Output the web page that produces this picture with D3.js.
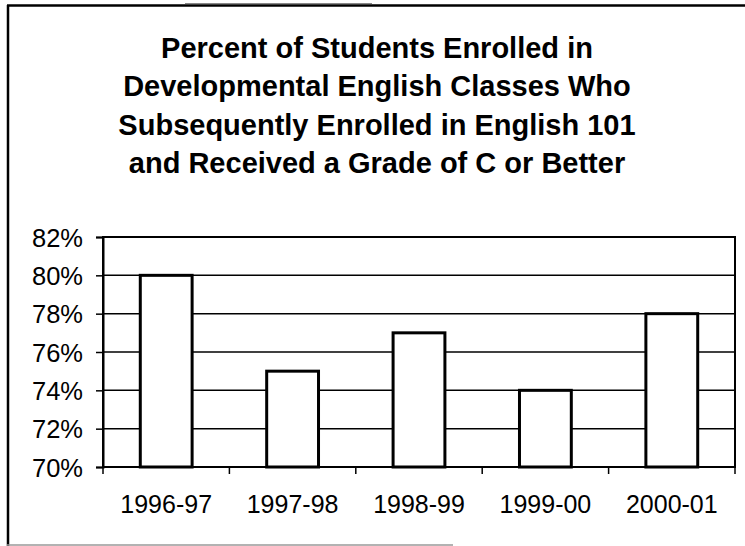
<!DOCTYPE html>
<html><head><meta charset="utf-8">
<script src="https://cdn.jsdelivr.net/npm/d3@7"></script>
<style>body{margin:0;background:#fff}svg{display:block}</style>
</head><body>
<script>
const categories = ["1996-97","1997-98","1998-99","1999-00","2000-01"];
const values = [80, 75, 77, 74, 78];
const yTicks = [70, 72, 74, 76, 78, 80, 82];
const titleLines = ["Percent of Students Enrolled in","Developmental English Classes Who","Subsequently Enrolled in English 101","and Received a Grade of C or Better"];

const W = 745, H = 546;
const svg = d3.select("body").append("svg").attr("width", W).attr("height", H);
const font = "Arial, 'Liberation Sans', Helvetica, sans-serif";

// outer frame
svg.append("line").attr("x1",7).attr("x2",745).attr("y1",5.5).attr("y2",5.5).attr("stroke","#000").attr("stroke-width",2.5);
svg.append("line").attr("x1",8).attr("x2",8).attr("y1",5).attr("y2",546).attr("stroke","#000").attr("stroke-width",2.5);
svg.append("line").attr("x1",7).attr("x2",453).attr("y1",545).attr("y2",545).attr("stroke","#999").attr("stroke-width",1.5);
svg.append("line").attr("x1",185).attr("x2",372).attr("y1",3.5).attr("y2",3.5).attr("stroke","#888").attr("stroke-width",1);

// title
svg.append("g").selectAll("text").data(titleLines).join("text")
  .attr("x", 377).attr("y", (d,i)=> 58 + i*38.4)
  .attr("text-anchor","middle").attr("font-family",font).attr("font-weight","bold")
  .attr("font-size",29).attr("fill","#000").text(d=>d);

const m = {left:103, right:735, top:237, bottom:467};
const x = d3.scaleBand().domain(categories).range([m.left, m.right]).paddingInner(0.59).paddingOuter(0.295);
const xb = d3.scaleBand().domain(categories).range([m.left, m.right]);
const y = d3.scaleLinear().domain([70, 82]).range([m.bottom, m.top]);

// gridlines
svg.append("g").selectAll("line").data(yTicks.slice(1)).join("line")
  .attr("x1", m.left).attr("x2", m.right).attr("y1", d=>y(d)).attr("y2", d=>y(d))
  .attr("stroke","#000").attr("stroke-width",1.5);

// plot border
svg.append("rect").attr("x",m.left).attr("y",m.top).attr("width",m.right-m.left).attr("height",m.bottom-m.top)
  .attr("fill","none").attr("stroke","#000").attr("stroke-width",2);

// bars
svg.append("g").selectAll("rect").data(values).join("rect")
  .attr("x",(d,i)=>x(categories[i])).attr("width",x.bandwidth())
  .attr("y",d=>y(d)).attr("height",d=>y(70)-y(d))
  .attr("fill","#fff").attr("stroke","#000").attr("stroke-width",3);

// y axis
const yAxis = d3.axisLeft(y).tickValues(yTicks).tickFormat(d=>d+"%").tickSize(7).tickPadding(13);
const gy = svg.append("g").attr("transform",`translate(${m.left},0)`).call(yAxis);
gy.select(".domain").attr("stroke","#000").attr("stroke-width",2);
gy.selectAll(".tick line").attr("stroke","#000").attr("stroke-width",1.5);
gy.selectAll("text").attr("font-family",font).attr("font-size",25.5).attr("fill","#000").attr("dy","0.36em");

// x axis ticks at category boundaries
const bounds = categories.map(c=>xb(c)).concat([m.right]);
svg.append("g").selectAll("line").data(bounds).join("line")
  .attr("x1",d=>d).attr("x2",d=>d).attr("y1",m.bottom).attr("y2",m.bottom+7)
  .attr("stroke","#000").attr("stroke-width",1.5);
svg.append("g").selectAll("text").data(categories).join("text")
  .attr("x",d=>xb(d)+xb.bandwidth()/2).attr("y",513)
  .attr("text-anchor","middle").attr("font-family",font).attr("font-size",25).attr("fill","#000").text(d=>d);
</script>
</body></html>
